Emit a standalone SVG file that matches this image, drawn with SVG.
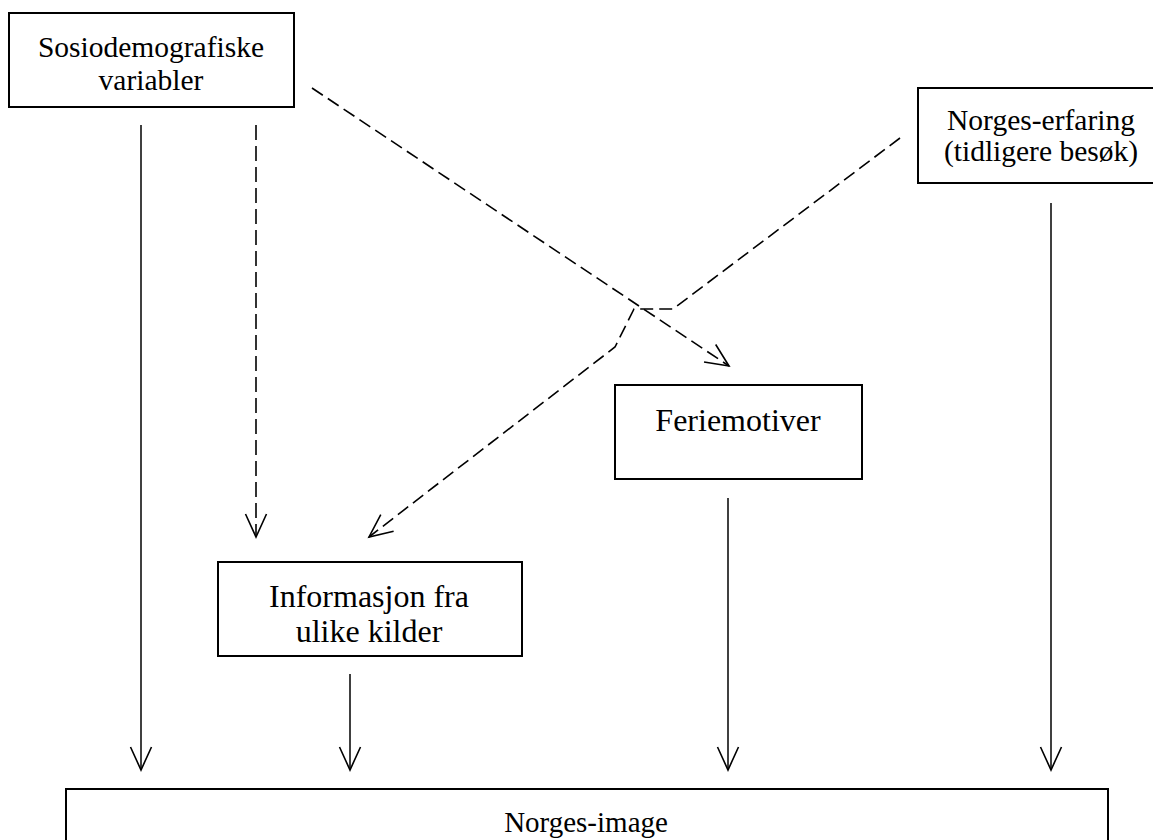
<svg xmlns="http://www.w3.org/2000/svg" width="1153" height="840" viewBox="0 0 1153 840">
<style>
.box{fill:#fff;stroke:#000;stroke-width:2}
.t{font-family:"Liberation Serif","Times New Roman",serif;fill:#000;text-anchor:middle}
.s{stroke:#000;stroke-width:1.5;fill:none}
.d{stroke:#000;stroke-width:1.6;fill:none;stroke-dasharray:13 6}
.dv{stroke:#000;stroke-width:1.6;fill:none;stroke-dasharray:15 6}
</style>
<defs>
<marker id="v" markerUnits="userSpaceOnUse" viewBox="-24 -12 26 24" markerWidth="26" markerHeight="24" refX="0" refY="0" orient="auto" overflow="visible">
<path d="M-23,-10.5 L0,0 L-23,10.5" fill="none" stroke="#000" stroke-width="1.6"/>
</marker>
</defs>
<rect width="1153" height="840" fill="#fff"/>
<g id="connectors">
<line class="s" x1="141" y1="125" x2="141" y2="770" marker-end="url(#v)"/>
<line class="dv" x1="256" y1="125" x2="256" y2="537" marker-end="url(#v)"/>
<line class="d" x1="312" y1="88" x2="729" y2="366" marker-end="url(#v)"/>
<polyline class="d" points="900,138 673,309 634,309 615,347 369,537" marker-end="url(#v)"/>
<line class="s" x1="350" y1="674" x2="350" y2="770" marker-end="url(#v)"/>
<line class="s" x1="728" y1="498" x2="728" y2="770" marker-end="url(#v)"/>
<line class="s" x1="1051" y1="203" x2="1051" y2="770" marker-end="url(#v)"/>
</g>
<g id="sosio">
<rect class="box" x="9" y="13" width="285" height="94"/>
<text class="t" x="151" y="57" font-size="29.5">Sosiodemografiske</text>
<text class="t" x="151" y="90" font-size="29.5">variabler</text>
</g>
<g id="erfaring">
<rect class="box" x="918" y="88" width="240" height="95"/>
<text class="t" x="1041" y="130" font-size="29.5">Norges-erfaring</text>
<text class="t" x="1041" y="161" font-size="29.5">(tidligere besøk)</text>
</g>
<g id="ferie">
<rect class="box" x="615" y="385" width="247" height="94"/>
<text class="t" x="738" y="431" font-size="32">Feriemotiver</text>
</g>
<g id="info">
<rect class="box" x="218" y="562" width="304" height="94"/>
<text class="t" x="369" y="607" font-size="32">Informasjon fra</text>
<text class="t" x="369" y="642" font-size="32">ulike kilder</text>
</g>
<g id="image">
<rect class="box" x="66" y="789" width="1042" height="70"/>
<text class="t" x="586" y="832" font-size="29">Norges-image</text>
</g>
</svg>
